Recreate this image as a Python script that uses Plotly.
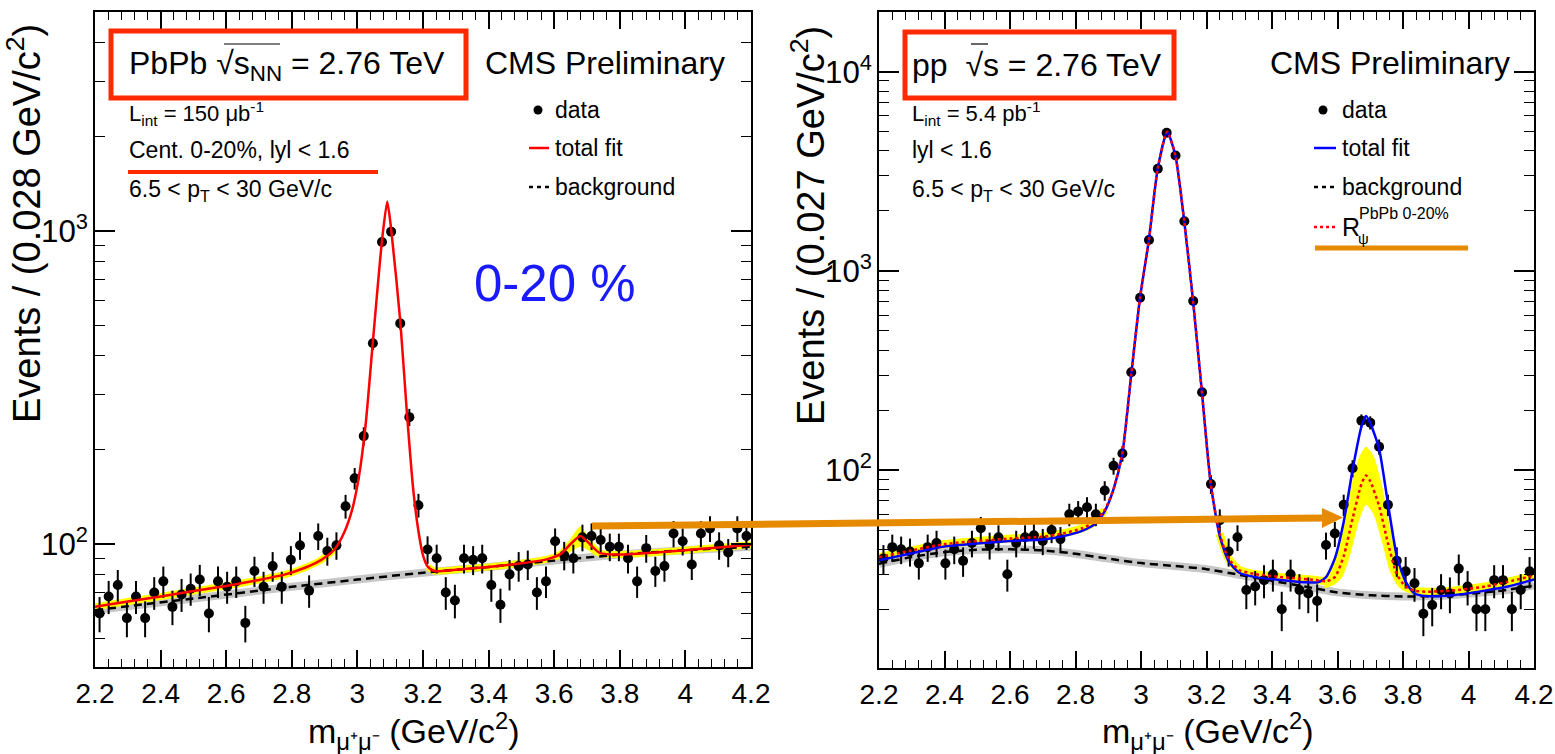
import numpy as np
import plotly.graph_objects as go

W, H = 1555, 754
FONT = "Liberation Sans, Arial, sans-serif"

# ---------------- data ----------------
# PbPb, centrality 0-20%: 72 bins between 2.2 and 4.2 GeV/c^2
pbpb_counts = [60, 68, 74, 58, 68, 58, 70, 76, 63, 69,
               72, 77, 60, 76, 73, 76, 56, 82, 73, 85,
               73, 89, 99, 71, 106, 95, 99, 132, 162, 221,
               437, 920, 993, 506, 254, 133, 96, 90, 70, 66,
               90, 89, 90, 74, 64, 80, 85, 86, 70, 76,
               102, 92, 90, 105, 106, 103, 98, 98, 90, 76,
               97, 82, 85, 108, 102, 86, 108, 112, 99, 94,
               112, 106]

# pp reference: 74 bins between 2.2 and 4.2 GeV/c^2
pp_counts = [36, 41, 40, 39, 34, 41, 43, 34, 40, 35,
             43, 51, 42, 46, 30, 43, 46, 47, 44, 50,
             45, 60, 62, 65, 60, 79, 105, 121, 310, 733,
             1429, 3260, 4940, 3800, 1775, 706, 246, 85, 56, 39,
             46, 25, 26, 28, 30, 20, 30, 25, 24, 22,
             42, 48, 67, 102, 177, 173, 131, 67, 35, 31,
             27, 19, 21, 25, 24, 32, 26, 20, 20, 28,
             28, 20, 25, 31]

# PbPb fit curves (mass, events)
pbpb_fit_m = [2.20, 2.30, 2.40, 2.50, 2.60, 2.70, 2.78, 2.84, 2.89, 2.93,
              2.96, 2.985, 3.005, 3.025, 3.047, 3.075, 3.091, 3.103, 3.131, 3.150,
              3.170, 3.186, 3.200, 3.215, 3.235, 3.30, 3.40, 3.50, 3.58, 3.62,
              3.65, 3.68, 3.71, 3.74, 3.80, 3.90, 4.00, 4.10, 4.20]
pbpb_fit_v = [63, 65.5, 68, 70.8, 73.5, 76.8, 80, 84, 89, 96,
              109, 130, 165, 240, 440, 930, 1240, 1010, 510, 270,
              150, 110, 92, 84.5, 82, 82.8, 84.5, 86.8, 89.5, 93,
              100, 106, 99.5, 93.5, 92.5, 93.8, 95.5, 97.5, 99.5]
pbpb_bkg_m = [2.2, 2.5, 2.8, 3.0, 3.2, 3.4, 3.6, 3.8, 4.0, 4.2]
pbpb_bkg_v = [61.5, 67, 73, 77, 81, 84.5, 88.5, 92.5, 95.5, 98]
pbpb_psi2_m = [3.61, 3.635, 3.66, 3.68, 3.70, 3.725, 3.75]
pbpb_psi2_hi = [92.5, 98, 108, 114, 107, 97, 93]
pbpb_psi2_lo = [89.5, 92, 96, 98, 96, 92, 90.5]

# pp fit curves (mass, events)
pp_fit_m = [2.20, 2.30, 2.40, 2.50, 2.60, 2.70, 2.76, 2.82, 2.862, 2.889,
            2.916, 2.943, 2.970, 2.997, 3.024, 3.051, 3.080, 3.105, 3.132, 3.159,
            3.186, 3.213, 3.240, 3.267, 3.30, 3.35, 3.45, 3.54, 3.565, 3.592,
            3.619, 3.646, 3.673, 3.687, 3.700, 3.727, 3.754, 3.781, 3.808, 3.835,
            3.87, 3.95, 4.05, 4.12, 4.20]
pp_fit_v = [35.2, 38.2, 41.3, 42.8, 44, 44.8, 46.5, 49.5, 54, 62,
            80, 121, 300, 733, 1429, 3260, 5000, 3800, 1775, 706,
            246, 85, 47, 35, 30.5, 29, 27.8, 27.3, 29, 36,
            55, 100, 165, 187, 172, 128, 68, 37, 27.5, 24,
            23.3, 23.5, 24.8, 26, 28.2]
rpsi_m = [2.20, 2.30, 2.40, 2.50, 2.60, 2.70, 2.76, 2.82, 2.862, 2.889,
          2.916, 2.943, 2.970, 2.997, 3.024, 3.051, 3.080, 3.105, 3.132, 3.159,
          3.186, 3.213, 3.240, 3.267, 3.30, 3.35, 3.45, 3.54, 3.565, 3.592,
          3.619, 3.646, 3.673, 3.687, 3.700, 3.727, 3.754, 3.781, 3.808, 3.835,
          3.87, 3.95, 4.05, 4.12, 4.20]
rpsi_v = [36.5, 39.5, 42.5, 44, 45.3, 46.3, 48, 51, 55.5, 63,
          80, 121, 300, 733, 1429, 3260, 5000, 3800, 1775, 706,
          246, 85, 48, 36, 31.5, 30, 28.8, 28, 27.6, 29,
          37, 57, 85, 94, 88, 66, 43, 30, 26, 24.8,
          24.5, 24.8, 26, 27.5, 29.5]
pp_bkg_m = [2.2, 2.3, 2.4, 2.5, 2.6, 2.7, 2.8, 2.9, 3.0, 3.1,
            3.2, 3.3, 3.4, 3.5, 3.6, 3.7, 3.8, 3.9, 4.0, 4.1, 4.2]
pp_bkg_v = [33.8, 36.6, 38.7, 39.8, 40, 39.5, 38, 35.9, 34.1, 33,
            31.8, 29.8, 27.8, 26, 24.3, 23.5, 23.2, 23.3, 23.9, 24.8, 26.3]
pp_psi2_m = [3.56, 3.59, 3.615, 3.64, 3.665, 3.687, 3.71, 3.735, 3.76, 3.785, 3.81]
pp_psi2_hi = [29, 35, 50, 80, 115, 131, 118, 85, 52, 34, 28]
pp_psi2_lo = [25.5, 26.5, 29, 38, 55, 67, 60, 44, 31, 26, 24.5]

m_lo, m_hi = 2.2, 4.2


def centers(nbins):
    edges = np.linspace(m_lo, m_hi, nbins + 1)
    return 0.5 * (edges[1:] + edges[:-1])


def outside(m, v, lo, hi):
    """Keep curve knots outside the (lo, hi) window, with a gap in between."""
    xs, ys = [], []
    gap = False
    for a, b in zip(m, v):
        if lo < a < hi:
            if not gap:
                xs.append(None)
                ys.append(None)
                gap = True
            continue
        xs.append(a)
        ys.append(b)
    return xs, ys


def px(x):
    return x / W


def py(y):
    return 1 - y / H


fig = go.Figure()

SPL = dict(shape="spline", smoothing=0.6)
GRAY_BAND = "rgba(180,180,180,0.75)"
YELLOW = "#ffff00"

# ---------- PbPb panel ----------
fig.add_trace(go.Scatter(x=pbpb_bkg_m, y=pbpb_bkg_v, mode="lines",
                         line=dict(color=GRAY_BAND, width=8, **SPL),
                         xaxis="x", yaxis="y", hoverinfo="skip"))
yx, yy = outside(pbpb_fit_m, pbpb_fit_v, 2.93, 3.215)
fig.add_trace(go.Scatter(x=yx, y=yy, mode="lines", connectgaps=False,
                         line=dict(color=YELLOW, width=7, **SPL),
                         xaxis="x", yaxis="y", hoverinfo="skip"))
fig.add_trace(go.Scatter(x=pbpb_psi2_m + pbpb_psi2_m[::-1],
                         y=pbpb_psi2_hi + pbpb_psi2_lo[::-1],
                         mode="lines", fill="toself", fillcolor=YELLOW,
                         line=dict(color=YELLOW, width=0, **SPL),
                         xaxis="x", yaxis="y", hoverinfo="skip"))
fig.add_trace(go.Scatter(x=pbpb_bkg_m, y=pbpb_bkg_v, mode="lines",
                         line=dict(color="black", width=2.5, dash="8px,5px", **SPL),
                         xaxis="x", yaxis="y", hoverinfo="skip"))
mc = centers(len(pbpb_counts))
fig.add_trace(go.Scatter(x=mc, y=pbpb_counts, mode="markers",
                         marker=dict(color="black", size=10),
                         error_y=dict(type="data", array=np.sqrt(pbpb_counts),
                                      color="black", thickness=2, width=0),
                         xaxis="x", yaxis="y"))
fig.add_trace(go.Scatter(x=pbpb_fit_m, y=pbpb_fit_v, mode="lines",
                         line=dict(color="#ff0000", width=2.5, **SPL),
                         xaxis="x", yaxis="y", hoverinfo="skip"))

# ---------- pp panel ----------
fig.add_trace(go.Scatter(x=pp_bkg_m, y=pp_bkg_v, mode="lines",
                         line=dict(color=GRAY_BAND, width=8, **SPL),
                         xaxis="x2", yaxis="y2", hoverinfo="skip"))
yx, yy = outside(rpsi_m, rpsi_v, 2.90, 3.24)
fig.add_trace(go.Scatter(x=yx, y=yy, mode="lines", connectgaps=False,
                         line=dict(color=YELLOW, width=8, **SPL),
                         xaxis="x2", yaxis="y2", hoverinfo="skip"))
fig.add_trace(go.Scatter(x=pp_psi2_m + pp_psi2_m[::-1],
                         y=pp_psi2_hi + pp_psi2_lo[::-1],
                         mode="lines", fill="toself", fillcolor=YELLOW,
                         line=dict(color=YELLOW, width=0, **SPL),
                         xaxis="x2", yaxis="y2", hoverinfo="skip"))
fig.add_trace(go.Scatter(x=pp_bkg_m, y=pp_bkg_v, mode="lines",
                         line=dict(color="black", width=2.5, dash="8px,5px", **SPL),
                         xaxis="x2", yaxis="y2", hoverinfo="skip"))
mc2 = centers(len(pp_counts))
fig.add_trace(go.Scatter(x=mc2, y=pp_counts, mode="markers",
                         marker=dict(color="black", size=10),
                         error_y=dict(type="data", array=np.sqrt(pp_counts),
                                      color="black", thickness=2, width=0),
                         xaxis="x2", yaxis="y2"))
fig.add_trace(go.Scatter(x=pp_fit_m, y=pp_fit_v, mode="lines",
                         line=dict(color="#0000ff", width=2.5, **SPL),
                         xaxis="x2", yaxis="y2", hoverinfo="skip"))
fig.add_trace(go.Scatter(x=rpsi_m, y=rpsi_v, mode="lines",
                         line=dict(color="#ff0000", width=2.5, dash="dot", **SPL),
                         xaxis="x2", yaxis="y2", hoverinfo="skip"))


# ---------- axes ----------
def xax(x0, x1, anchor):
    return dict(domain=[px(x0), px(x1)], range=[m_lo, m_hi], tick0=2.2, dtick=0.2,
                anchor=anchor, automargin=False,
                ticks="inside", ticklen=17, tickwidth=1.5, tickcolor="black",
                minor=dict(dtick=0.04, ticks="inside", ticklen=8, tickwidth=1.2,
                           tickcolor="black", showgrid=False),
                showline=True, linecolor="black", linewidth=2, mirror="allticks",
                showgrid=False, zeroline=False,
                tickfont=dict(family=FONT, size=28, color="black"))


def yax(y0, y1, rng, anchor):
    return dict(domain=[py(y1), py(y0)], type="log", range=rng, dtick=1,
                exponentformat="power", anchor=anchor, automargin=False,
                ticks="inside", ticklen=20, tickwidth=1.5, tickcolor="black",
                ticklabelstandoff=0,
                minor=dict(dtick="D1", ticks="inside", ticklen=10, tickwidth=1.2,
                           tickcolor="black", showgrid=False),
                showline=True, linecolor="black", linewidth=2, mirror="allticks",
                showgrid=False, zeroline=False,
                tickfont=dict(family=FONT, size=25, color="black"))


fig.update_layout(
    width=W, height=H, margin=dict(l=0, r=0, t=0, b=0, autoexpand=False),
    paper_bgcolor="white", plot_bgcolor="white", showlegend=False,
    xaxis=xax(95, 751, "y"),
    yaxis=yax(12, 667, [1.6074, 3.698], "x"),
    xaxis2=xax(879, 1534, "y2"),
    yaxis2=yax(12, 668, [1.006, 4.30], "x2"),
    font=dict(family=FONT, color="black"),
)

# ---------- texts ----------
ann = []


def text(x, y, s, size=23, color="black", anchor="left", angle=0):
    ann.append(dict(x=px(x), y=py(y), xref="paper", yref="paper", text=s,
                    showarrow=False, xanchor=anchor, yanchor="middle",
                    textangle=angle, font=dict(family=FONT, size=size, color=color)))


# axis titles
text(24, 224, "Events / (0.028 GeV/c<sup>2</sup>)", size=38, anchor="center", angle=-90)
text(808, 226, "Events / (0.027 GeV/c<sup>2</sup>)", size=38, anchor="center", angle=-90)
text(414, 731, "m<sub>μ⁺μ⁻</sub> (GeV/c<sup>2</sup>)", size=34, anchor="center")
text(1208, 731, "m<sub>μ⁺μ⁻</sub> (GeV/c<sup>2</sup>)", size=34, anchor="center")

# PbPb panel texts
text(127, 65, "PbPb √s<sub>NN</sub> = 2.76 TeV", size=32)
text(483, 63, "CMS Preliminary", size=32)
text(127, 113, "L<sub>int</sub> = 150 μb<sup>-1</sup>", size=22)
text(127, 150, "Cent. 0-20%, lyl < 1.6", size=23)
text(127, 190, "6.5 < p<sub>T</sub> < 30 GeV/c", size=23)
text(553, 110, "data", size=23)
text(553, 148, "total fit", size=23)
text(553, 187, "background", size=23)
text(555, 283, "0-20 %", size=51, color="#1a1aff", anchor="center")

# pp panel texts
text(910, 65, "pp  √s = 2.76 TeV", size=32)
text(1268, 63, "CMS Preliminary", size=32)
text(910, 113, "L<sub>int</sub> = 5.4 pb<sup>-1</sup>", size=22)
text(910, 150, "lyl < 1.6", size=23)
text(910, 190, "6.5 < p<sub>T</sub> < 30 GeV/c", size=23)
text(1340, 110, "data", size=23)
text(1340, 148, "total fit", size=23)
text(1340, 187, "background", size=23)
text(1340, 227, "R", size=25)
text(1357, 214, "PbPb 0-20%", size=16)
text(1356, 238, "ψ", size=15)

fig.update_layout(annotations=ann)

# ---------- shapes ----------
shapes = []


def line(x0, y0, x1, y1, color, width, dash=None):
    d = dict(type="line", xref="paper", yref="paper", x0=px(x0), y0=py(y0),
             x1=px(x1), y1=py(y1), line=dict(color=color, width=width))
    if dash:
        d["line"]["dash"] = dash
    shapes.append(d)


def rect(x0, y0, x1, y1, color, width):
    shapes.append(dict(type="rect", xref="paper", yref="paper", x0=px(x0), y0=py(y0),
                       x1=px(x1), y1=py(y1), line=dict(color=color, width=width)))


def dot(x, y, r=4.5):
    shapes.append(dict(type="circle", xref="paper", yref="paper",
                       x0=px(x - r), x1=px(x + r), y0=py(y + r), y1=py(y - r),
                       fillcolor="black", line=dict(color="black", width=0)))


RED = "#ff2a00"
ORANGE = "#e68a00"
rect(111, 31, 466, 98, RED, 5)
rect(905, 32, 1174, 98, RED, 5)
line(224, 44, 280, 44, "black", 1.2)       # radical bar over s_NN
line(971, 44, 988, 44, "black", 1.2)       # radical bar over s
line(128, 172, 378, 172, RED, 4)

# legend samples
dot(538, 110)
line(529, 148, 549, 148, "#ff0000", 2.5)
line(529, 187, 549, 187, "black", 2.5, "4px,4px")
dot(1323, 110)
line(1314, 148, 1336, 148, "#0000ff", 2.5)
line(1314, 187, 1336, 187, "black", 2.5, "4px,4px")
line(1314, 227, 1336, 227, "#ff0000", 2.5, "dot")
line(1315, 248, 1468, 248, ORANGE, 5)

# orange arrow linking the psi(2S) peaks
line(592, 526, 1326, 518, ORANGE, 7)
shapes.append(dict(type="path", xref="paper", yref="paper",
                   path=f"M {px(1322)},{py(508)} L {px(1343)},{py(517.5)} L {px(1322)},{py(528)} Z",
                   fillcolor=ORANGE, line=dict(color=ORANGE, width=0)))

fig.update_layout(shapes=shapes)

fig.write_html("out.html")
